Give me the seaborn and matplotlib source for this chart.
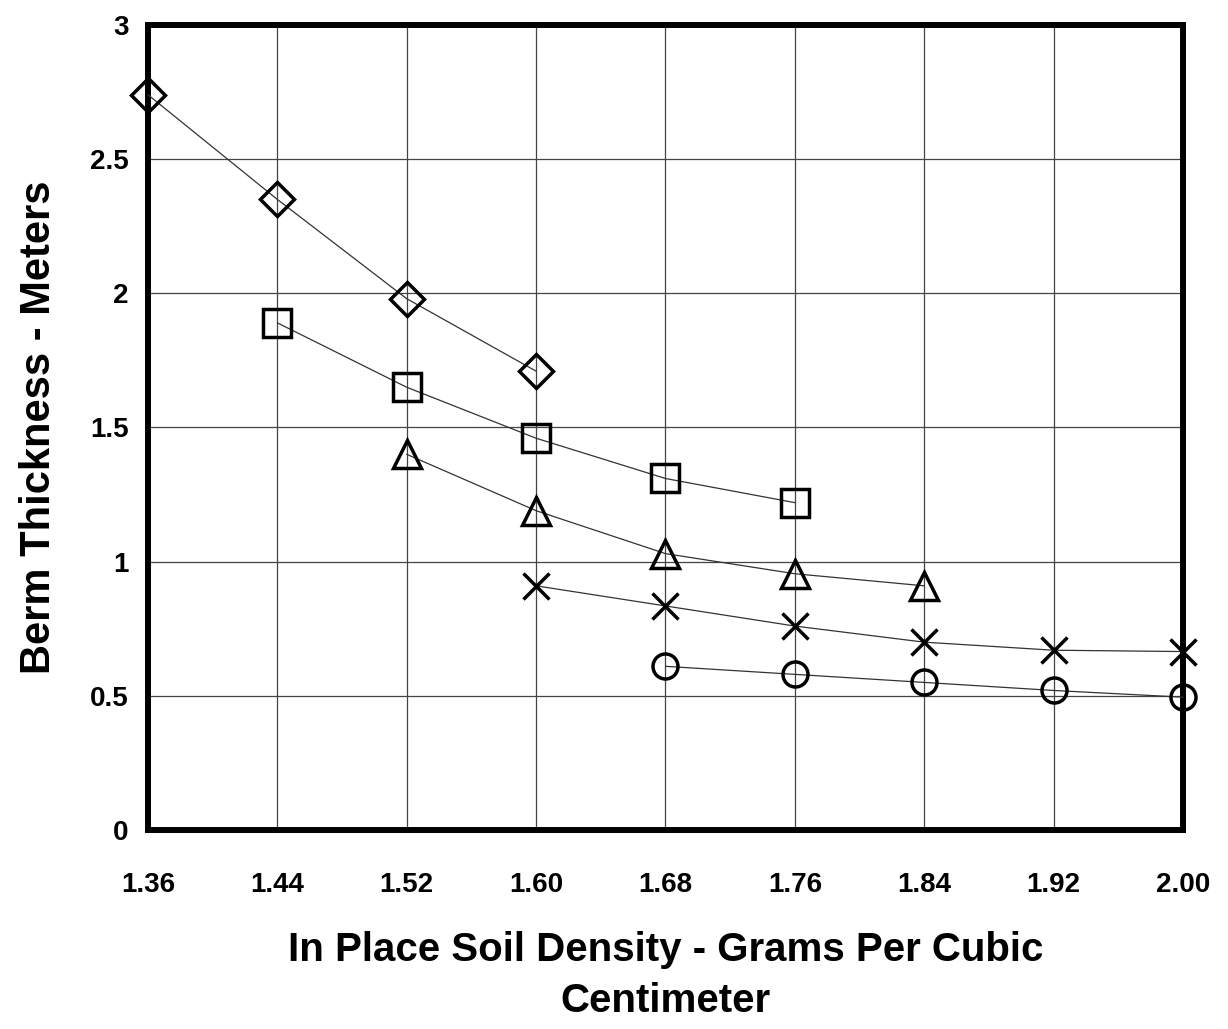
import matplotlib
matplotlib.use("Agg")
import matplotlib.pyplot as plt
import seaborn as sns
import pandas as pd

# values
density = [1.36, 1.44, 1.52, 1.60, 1.68, 1.76, 1.84, 1.92, 2.00]
diamond_x = [1.36, 1.44, 1.52, 1.60]
diamond_y = [2.74, 2.35, 1.98, 1.71]
square_x = [1.44, 1.52, 1.60, 1.68, 1.76]
square_y = [1.89, 1.65, 1.46, 1.31, 1.22]
triangle_x = [1.52, 1.60, 1.68, 1.76, 1.84]
triangle_y = [1.40, 1.19, 1.03, 0.955, 0.91]
cross_x = [1.60, 1.68, 1.76, 1.84, 1.92, 2.00]
cross_y = [0.91, 0.835, 0.76, 0.70, 0.67, 0.665]
circle_x = [1.68, 1.76, 1.84, 1.92, 2.00]
circle_y = [0.61, 0.58, 0.55, 0.52, 0.495]
y_ticks = [0, 0.5, 1, 1.5, 2, 2.5, 3]

sns.set_style("white")
plt.rcParams['font.family'] = ['Liberation Sans', 'DejaVu Sans']
plt.rcParams['text.color'] = 'black'
plt.rcParams['axes.labelcolor'] = 'black'

fig = plt.figure(figsize=(12.28, 10.29), dpi=100)
ax = fig.add_axes([0.1205, 0.1934, 0.8428, 0.7823])

series = [
    (diamond_x, diamond_y, 'D', 17),
    (square_x, square_y, 's', 20),
    (triangle_x, triangle_y, '^', 20),
    (cross_x, cross_y, 'x', 19),
    (circle_x, circle_y, 'o', 18),
]
for xs, ys, mk, ms in series:
    df = pd.DataFrame({"x": xs, "y": ys})
    sns.lineplot(data=df, x="x", y="y", ax=ax, color="#333333", lw=0.9,
                 marker=mk, markersize=ms, markerfacecolor='none',
                 markeredgecolor='black', markeredgewidth=2.5, clip_on=False, zorder=3)

ax.set_xlim(1.36, 2.00)
ax.set_ylim(0, 3)
ax.set_xticks(density)
ax.set_xticklabels([f"{d:.2f}" for d in density])
ax.set_yticks(y_ticks)
ax.set_yticklabels([f"{t:g}" for t in y_ticks])
ax.grid(True, color="#444444", lw=0.9)
ax.set_axisbelow(True)

for sp in ax.spines.values():
    sp.set_linewidth(4.3)
    sp.set_color("black")

ax.tick_params(axis='both', direction='out', length=6, width=1, labelsize=20)
ax.tick_params(axis='x', pad=24, colors='#555555', labelcolor='black')
ax.tick_params(axis='y', pad=8, colors='#555555', labelcolor='black')
for lab in ax.get_xticklabels() + ax.get_yticklabels():
    lab.set_fontweight('bold')

ax.set_xlabel("In Place Soil Density - Grams Per Cubic\nCentimeter",
              fontsize=29, fontweight='bold', labelpad=24, linespacing=1.45, color='black')
ax.set_ylabel("Berm Thickness - Meters", fontsize=30, fontweight='bold', labelpad=22, color='black')

plt.savefig("out.png", dpi=100)
